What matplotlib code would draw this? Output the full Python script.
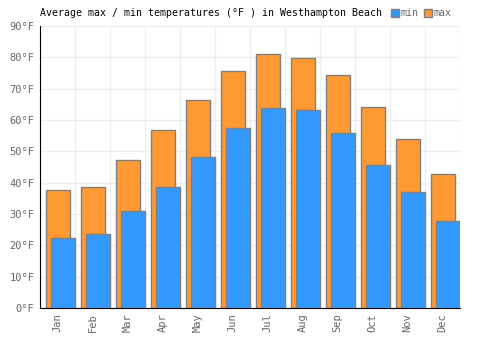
import numpy as np
import matplotlib
matplotlib.use("Agg")
import matplotlib.pyplot as plt
from matplotlib.patches import Patch

months = ["Jan", "Feb", "Mar", "Apr", "May", "Jun", "Jul", "Aug", "Sep", "Oct", "Nov", "Dec"]
t_max = [37.7, 38.6, 47.2, 56.8, 66.4, 75.6, 81.1, 79.8, 74.4, 64.2, 53.9, 42.8]
t_min = [22.3, 23.6, 31.0, 38.6, 48.2, 57.5, 63.8, 63.2, 55.9, 45.6, 37.0, 27.8]

ORANGE = "#ff9933"
BLUE = "#3399ff"
EDGE = "#808080"
TXT = "#666666"

plt.rcParams["font.family"] = ["DejaVu Sans Mono"]

fig = plt.figure(figsize=(5, 3.5), dpi=100)
ax = fig.add_axes([0.08, 0.12, 0.84, 0.806])

x = np.arange(len(months))
# max bar sits left, min bar overlaps to the right
ax.bar(x + 0.01, t_max, width=0.68, color=ORANGE, edgecolor=EDGE, linewidth=1, zorder=2)
ax.bar(x + 0.155, t_min, width=0.69, color=BLUE, edgecolor=EDGE, linewidth=1, zorder=3)

ax.set_xlim(-0.5, 11.5)
ax.set_ylim(0, 90)
ax.set_yticks(range(0, 91, 10))
ax.set_yticklabels([f"{v}°F" for v in range(0, 91, 10)], color=TXT, fontsize=7.5)
ax.set_xticks(x)
ax.set_xticklabels(months, rotation=90, color=TXT, fontsize=7.5)
ax.set_xticks(np.arange(-0.5, 12, 1), minor=True)
ax.tick_params(axis="both", which="both", length=0, pad=4)

ax.grid(True, axis="y", color="#eeeeee", linewidth=1, zorder=0)
ax.grid(True, axis="x", which="minor", color="#eeeeee", linewidth=1, zorder=0)
ax.grid(False, axis="x", which="major")
ax.set_axisbelow(True)

for s in ["top", "right"]:
    ax.spines[s].set_visible(False)
ax.spines["left"].set_color("black")
ax.spines["bottom"].set_color("black")

fig.text(0.08, 0.962, "Average max / min temperatures (°F ) in Westhampton Beach",
         fontsize=7.15, color="black", va="center", ha="left")
handles = [Patch(facecolor=BLUE, edgecolor=EDGE, label="min"),
           Patch(facecolor=ORANGE, edgecolor=EDGE, label="max")]
leg = fig.legend(handles=handles, loc="center left", bbox_to_anchor=(0.782, 0.962),
                 ncol=2, frameon=False, fontsize=7.15, handlelength=0.8, handleheight=0.8,
                 handletextpad=0.2, columnspacing=0.5, borderpad=0, borderaxespad=0)
for t in leg.get_texts():
    t.set_color(TXT)

fig.savefig("out.png", dpi=100)
